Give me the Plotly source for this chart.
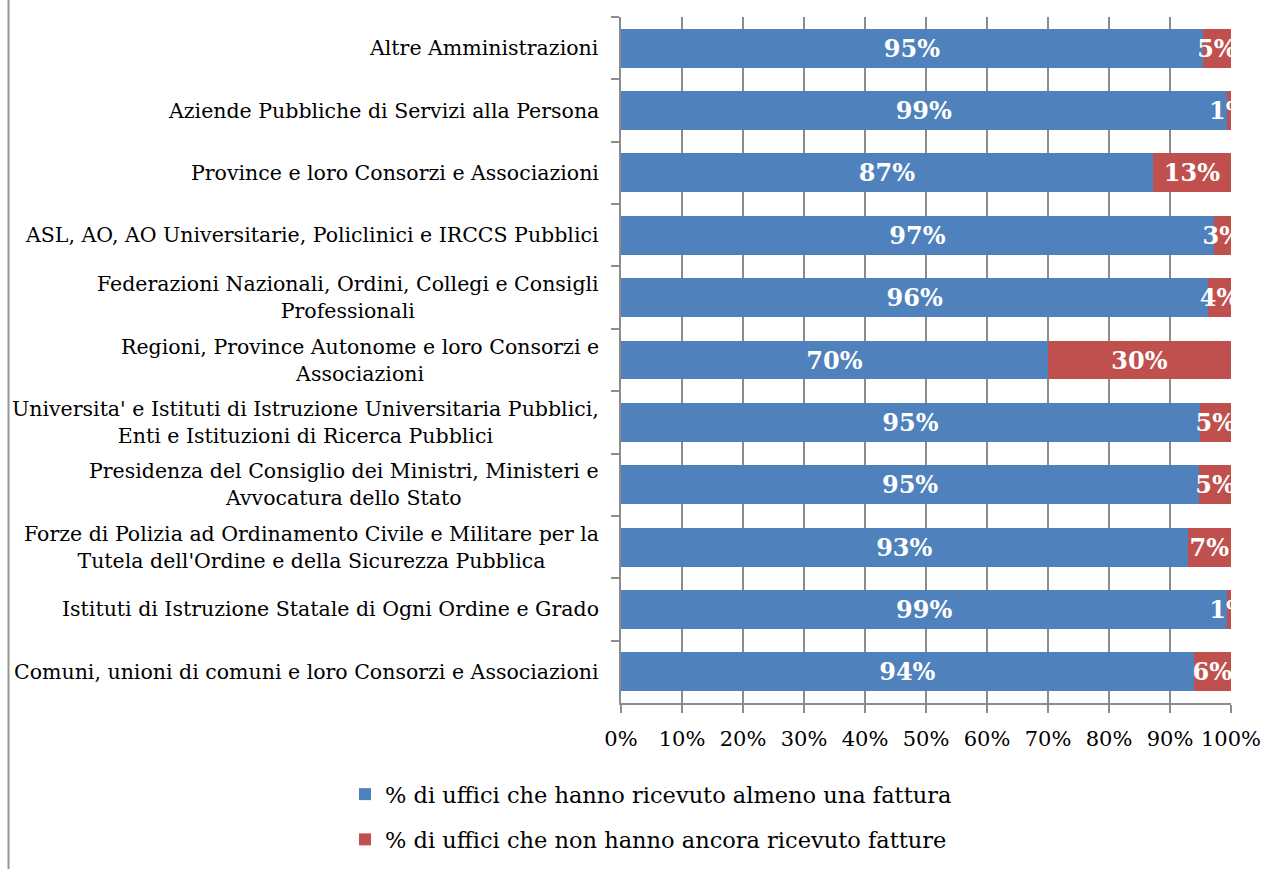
import plotly.graph_objects as go

categories = [
    "Altre Amministrazioni",
    "Aziende Pubbliche di Servizi alla Persona",
    "Province e loro Consorzi e Associazioni",
    "ASL, AO, AO Universitarie, Policlinici e IRCCS Pubblici",
    "Federazioni Nazionali, Ordini, Collegi e Consigli<br>Professionali",
    "Regioni, Province Autonome e loro Consorzi e<br>Associazioni",
    "Universita' e Istituti di Istruzione Universitaria Pubblici,<br>Enti e Istituzioni di Ricerca Pubblici",
    "Presidenza del Consiglio dei Ministri, Ministeri e<br>Avvocatura dello Stato",
    "Forze di Polizia ad Ordinamento Civile e Militare per la<br>Tutela dell'Ordine e della Sicurezza Pubblica",
    "Istituti di Istruzione Statale di Ogni Ordine e Grado",
    "Comuni, unioni di comuni e loro Consorzi e Associazioni",
]
ricevuto = [0.954, 0.993, 0.872, 0.972, 0.963, 0.700, 0.949, 0.948, 0.929, 0.994, 0.939]
non_ricevuto = [0.046, 0.007, 0.128, 0.028, 0.037, 0.300, 0.051, 0.052, 0.071, 0.006, 0.061]
series_names = ["% di uffici che hanno ricevuto almeno una fattura",
                "% di uffici che non hanno ancora ricevuto fatture"]
x_ticks = [0, 0.1, 0.2, 0.3, 0.4, 0.5, 0.6, 0.7, 0.8, 0.9, 1.0]

FONT = "DejaVu Serif"
BLUE, RED, GRID = "#4F81BD", "#C0504D", "#8C8C8C"

W, H = 1266, 869
ML, MR, MT, MB = 621, 35, 17, 166
pw, ph = W - ML - MR, H - MT - MB

fig = go.Figure()
for name, vals, col in [(series_names[0], ricevuto, BLUE), (series_names[1], non_ricevuto, RED)]:
    fig.add_trace(go.Bar(
        name=name, y=categories, x=vals, orientation="h", marker_color=col,
        marker_line_width=0, legendgroup=name,
        texttemplate="%{x:.0%}", textposition="inside", insidetextanchor="middle",
        constraintext="none", textangle=0, cliponaxis=True,
        textfont=dict(family=FONT, size=24, color="white", weight="bold"),
    ))

# category labels, centred multi-line like the original
annotations = [dict(text=c, xref="paper", yref="y", x=0, y=c, xanchor="right", xshift=-20,
                    align="center", showarrow=False, font=dict(family=FONT, size=20.5, color="black"))
               for c in categories]

fig.update_layout(
    width=W, height=H, barmode="stack", bargap=0.375,
    plot_bgcolor="white", paper_bgcolor="white",
    margin=dict(l=ML, r=MR, t=MT, b=MB, autoexpand=False),
    font=dict(family=FONT, color="black"),
    annotations=annotations,
    xaxis=dict(range=[0, 1], tickvals=x_ticks, tickformat=".0%", showgrid=True, gridcolor=GRID,
               gridwidth=1.5, showline=True, linecolor=GRID, linewidth=1.5, ticks="outside",
               ticklen=8, tickcolor=GRID, tickwidth=1.5, tickfont=dict(size=21), zeroline=False,
               automargin=False, ticklabelstandoff=8),
    yaxis=dict(autorange="reversed", showticklabels=False, showline=True, linecolor=GRID,
               linewidth=1.5, ticks="outside", ticklen=8, tickcolor=GRID, tickwidth=1.5,
               tickson="boundaries", showgrid=False, automargin=False),
    legend=dict(orientation="v", x=(345 - ML) / pw, xanchor="left", y=(H - MB - 773) / ph,
                yanchor="top", font=dict(size=22.5), traceorder="grouped", tracegroupgap=13,
                itemwidth=30),
    shapes=[dict(type="line", xref="paper", yref="paper", x0=(8.5 - ML) / pw, x1=(8.5 - ML) / pw,
                 y0=(H - MB) / ph, y1=(H - MB - H) / ph, line=dict(color="#969696", width=2))],
)

fig.write_html("out.html", config={"displayModeBar": False},
               post_script="document.body.style.margin='0';")
